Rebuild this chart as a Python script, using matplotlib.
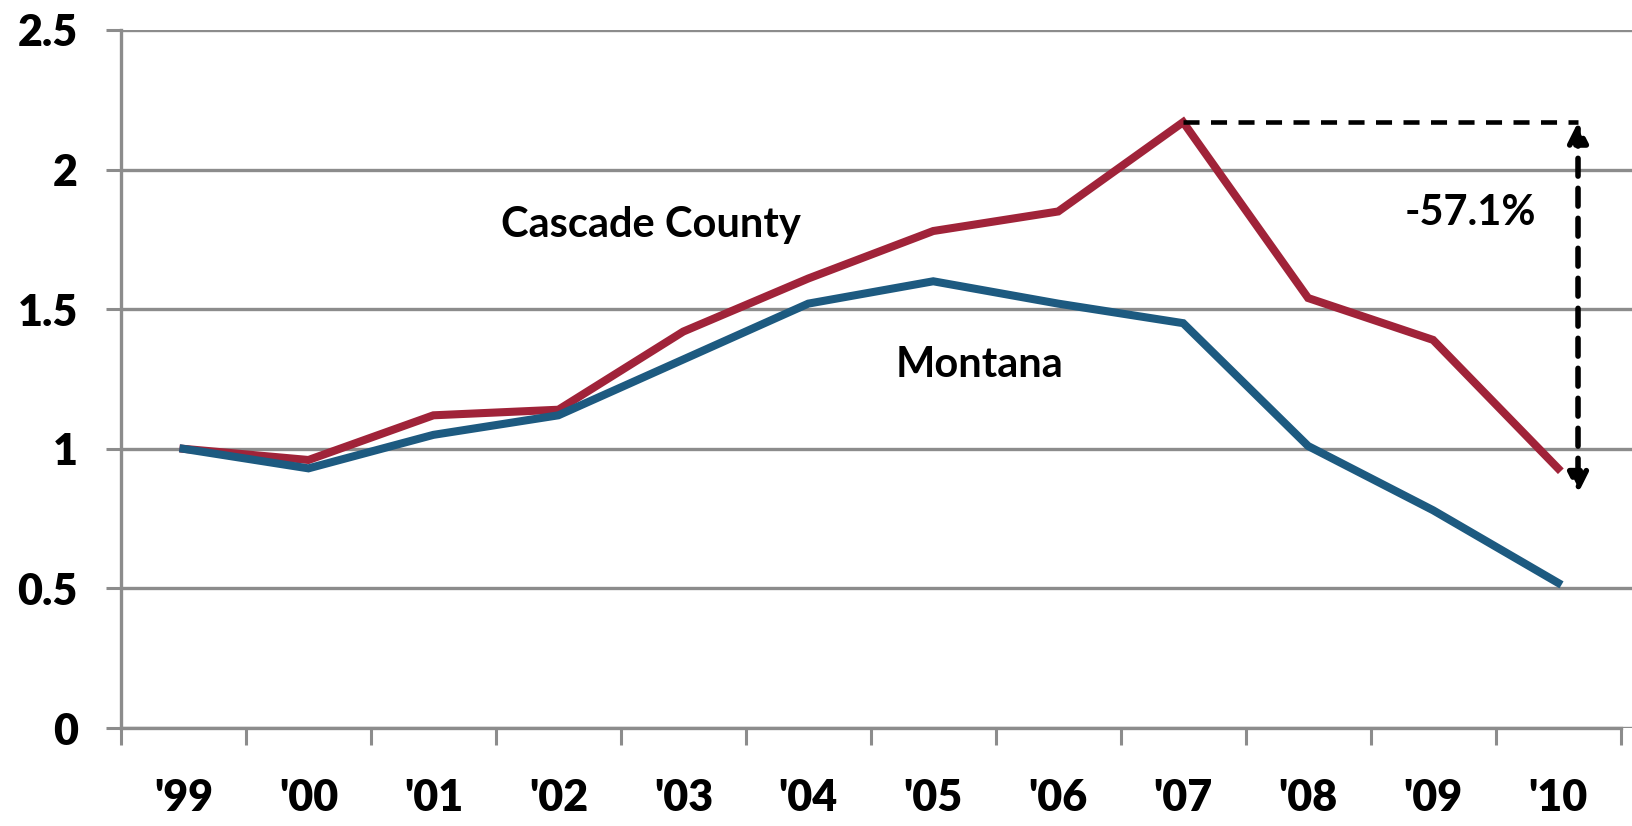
import matplotlib
matplotlib.use('AGG')
import matplotlib.pyplot as plt
import numpy as np

years = ["'99", "'00", "'01", "'02", "'03", "'04", "'05", "'06", "'07", "'08", "'09", "'10"]
cascade = [1.00, 0.96, 1.12, 1.14, 1.42, 1.61, 1.78, 1.85, 2.17, 1.54, 1.39, 0.93]
montana = [1.00, 0.93, 1.05, 1.12, 1.32, 1.52, 1.60, 1.52, 1.45, 1.01, 0.78, 0.52]
yticks = [0, 0.5, 1, 1.5, 2, 2.5]
ytick_labels = ['0', '0.5', '1', '1.5', '2', '2.5']

red = '#A02339'
blue = '#1D5A80'
grey = '#8C8C8C'
fnt = 'Lato'

fig = plt.figure(figsize=(16.33, 8.26), dpi=100)
ax = fig.add_axes([0.0741, 0.1186, 0.9259, 0.8451])

x = np.arange(len(years))
ax.plot(x, cascade, color=red, linewidth=5.8, solid_joinstyle='miter', zorder=3)
ax.plot(x, montana, color=blue, linewidth=5.8, solid_joinstyle='miter', zorder=3)

ax.set_ylim(0, 2.5)
ax.set_xlim(-0.5, 11.6)

# gridlines
ax.set_yticks(yticks)
ax.set_yticklabels(ytick_labels, fontsize=31, fontweight='heavy', family=fnt)
ax.yaxis.grid(True, color=grey, linewidth=2.4)
ax.set_axisbelow(True)

# category axis: ticks between categories, labels in middle
ax.set_xticks(np.arange(-0.5, 12, 1))
ax.set_xticklabels([])
ax.set_xticks(x, minor=True)
ax.set_xticklabels(years, minor=True, fontsize=31, fontweight='heavy', family=fnt)
ax.tick_params(axis='x', which='major', length=12, width=2.2, color=grey, direction='out')
ax.tick_params(axis='x', which='minor', length=0, pad=36)
ax.tick_params(axis='y', length=11, width=2.2, color=grey, pad=20)

for s in ['top', 'right']:
    ax.spines[s].set_visible(False)
for s in ['left', 'bottom']:
    ax.spines[s].set_color(grey)
    ax.spines[s].set_linewidth(2.4)
ax.spines['bottom'].set_bounds(-0.5, 11.5)

# labels
ax.text(3.74, 1.80, 'Cascade County', fontsize=30, fontweight='bold', family=fnt,
        ha='center', va='center')
ax.text(6.37, 1.30, 'Montana', fontsize=30, fontweight='bold', family=fnt,
        ha='center', va='center')
ax.text(10.30, 1.845, '-57.1%', fontsize=30, fontweight='bold', family=fnt,
        ha='center', va='center')

# annotation of the drop
ax.plot([8, 11.16], [cascade[8], cascade[8]], color='black', linewidth=3.3,
        dashes=(3.5, 2.5), zorder=4)
ax.annotate('', xy=(11.16, 0.84), xytext=(11.16, cascade[8]),
            arrowprops=dict(arrowstyle='<|-|>', color='black', linewidth=4,
                            linestyle=(0, (3.2, 2.2)), mutation_scale=30,
                            shrinkA=0, shrinkB=0), zorder=4)

plt.savefig('out.png', dpi=100)
